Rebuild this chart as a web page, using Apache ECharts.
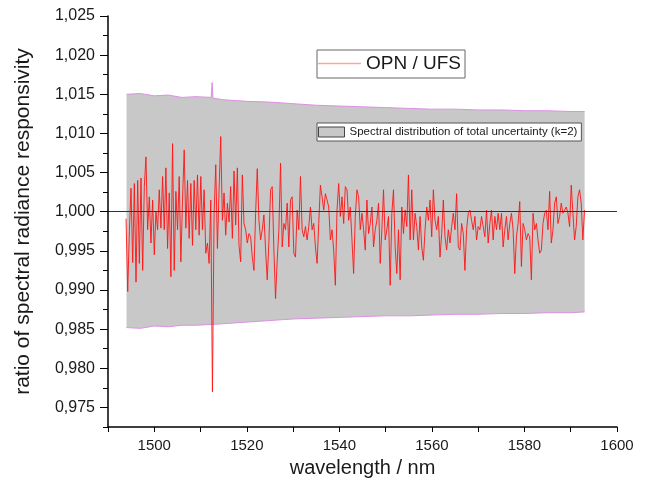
<!DOCTYPE html>
<html>
<head>
<meta charset="utf-8">
<title>OPN / UFS</title>
<script src="https://cdn.jsdelivr.net/npm/echarts@6.0.0/dist/echarts.min.js"></script>
<style>
  html, body { margin: 0; padding: 0; background: #fff; }
  #chart { width: 649px; height: 491px; }
</style>
</head>
<body>
<div id="chart"></div>
<script>
// tick positions
var xTicks = [1490, 1500, 1510, 1520, 1530, 1540, 1550, 1560, 1570, 1580, 1590, 1600];
var xLabels = [1500, 1520, 1540, 1560, 1580, 1600];
var yTicks = [0.975, 0.980, 0.985, 0.990, 0.995, 1.000, 1.005, 1.010, 1.015, 1.020, 1.025];
var yMinorTicks = [0.9725, 0.9775, 0.9825, 0.9875, 0.9925, 0.9975, 1.0025, 1.0075, 1.0125, 1.0175, 1.0225];

// uncertainty band (k=2), upper and lower edge
var bandNm = [1494, 1497, 1500, 1503, 1506, 1509, 1512.3, 1512.5, 1512.7, 1515, 1520, 1525, 1530,
  1535, 1540, 1545, 1550, 1555, 1560, 1565, 1570, 1575, 1580, 1585, 1590, 1593];
var bandUpper = [1.0150, 1.0151, 1.0148, 1.0149, 1.0146, 1.0147, 1.0146, 1.0165, 1.0145, 1.0143, 1.0141, 1.0140, 1.0138,
  1.0136, 1.0135, 1.0134, 1.0133, 1.0132, 1.0131, 1.0131, 1.0130, 1.0130, 1.0129, 1.0129, 1.0128, 1.0128];
var bandLower = [0.9852, 0.9851, 0.9854, 0.9853, 0.9855, 0.9855, 0.9856, 0.9856, 0.9856, 0.9857, 0.9859, 0.9861, 0.9863,
  0.9864, 0.9865, 0.9866, 0.9867, 0.9867, 0.9868, 0.9869, 0.9869, 0.9870, 0.9870, 0.9871, 0.9871, 0.9872];

// OPN / UFS ratio, read every ~0.36 nm from 1493.9 nm
var ratioStart = 1493.9;
var ratioStep = 0.359;
var ratio = [
  // 1494 - 1520
  0.9991, 0.9898, 0.9975, 1.0030, 0.9935, 1.0036, 0.9910, 1.0040, 0.9934, 1.0043,
  0.9925, 1.0032, 1.0070, 0.9977, 1.0019, 0.9960, 1.0015, 0.9945, 1.0000, 0.9977,
  1.0028, 0.9979, 1.0045, 0.9977, 1.0056, 0.9953, 1.0024, 0.9917, 1.0087, 0.9925,
  1.0026, 0.9977, 1.0045, 0.9936, 1.0015, 1.0079, 0.9979, 1.0040, 0.9966, 1.0036,
  0.9957, 1.0040, 0.9977, 1.0047, 0.9970, 1.0045, 0.9977, 1.0028, 0.9947, 0.9960,
  0.9934, 1.0015, 0.9770, 0.9996, 1.0060, 0.9953, 1.0028, 1.0096, 0.9989, 1.0024,
  0.9970, 1.0011, 0.9987, 1.0032, 0.9966, 1.0052, 0.9983, 1.0056, 0.9957, 0.9936,
  1.0047, 0.9985,
  // 1520 - 1546
  0.9977, 0.9960, 0.9972, 0.9968, 0.9942, 0.9925, 0.9998, 1.0055, 0.9989, 0.9964,
  0.9977, 0.9996, 0.9951, 0.9913, 0.9962, 1.0028, 1.0032, 0.9951, 0.9889, 0.9938,
  0.9977, 1.0062, 0.9955, 0.9985, 0.9977, 1.0011, 0.9955, 1.0015, 1.0019, 0.9947,
  0.9942, 1.0002, 0.9977, 1.0045, 0.9977, 0.9968, 0.9981, 0.9964, 0.9981, 1.0006,
  0.9977, 0.9985, 0.9955, 0.9934, 0.9985, 1.0034, 1.0019, 1.0002, 1.0023, 1.0015,
  1.0006, 0.9964, 0.9977, 0.9951, 0.9906, 1.0002, 1.0036, 0.9994, 1.0019, 0.9985,
  1.0032, 1.0028, 0.9989, 1.0006, 0.9964, 0.9921, 0.9994, 1.0028, 1.0019, 0.9977,
  0.9998, 0.9977,
  // 1546 - 1572
  0.9951, 1.0015, 0.9972, 0.9985, 1.0006, 0.9955, 0.9977, 0.9989, 1.0011, 0.9934,
  0.9977, 1.0028, 0.9964, 0.9977, 0.9994, 0.9906, 0.9998, 1.0028, 0.9955, 0.9921,
  0.9977, 0.9913, 1.0006, 0.9972, 1.0002, 0.9981, 1.0047, 0.9964, 1.0028, 0.9964,
  0.9998, 0.9981, 0.9951, 0.9994, 0.9955, 0.9938, 0.9977, 1.0006, 0.9989, 1.0015,
  0.9968, 1.0028, 0.9989, 0.9977, 0.9994, 0.9942, 0.9972, 1.0015, 0.9968, 0.9951,
  0.9977, 0.9960, 0.9981, 0.9998, 0.9977, 1.0023, 0.9955, 0.9951, 0.9985, 0.9972,
  0.9925, 0.9977, 0.9998, 1.0002, 0.9989, 0.9977, 0.9994, 0.9964, 0.9981, 0.9977,
  0.9994, 0.9981,
  // 1572 - 1593
  0.9968, 1.0002, 0.9960, 0.9985, 1.0002, 0.9964, 0.9994, 0.9977, 0.9998, 0.9977,
  0.9998, 0.9955, 0.9977, 0.9994, 0.9964, 0.9985, 0.9998, 0.9977, 0.9921, 0.9968,
  0.9985, 1.0013, 0.9930, 0.9985, 0.9977, 0.9964, 0.9972, 0.9968, 0.9913, 0.9998,
  0.9977, 0.9985, 0.9964, 0.9947, 0.9951, 0.9985, 0.9998, 1.0002, 0.9977, 1.0026,
  0.9960, 0.9977, 1.0011, 1.0019, 0.9985, 0.9994, 1.0011, 0.9998, 1.0002, 1.0006,
  0.9998, 0.9981, 1.0034, 0.9998, 0.9964, 0.9981, 1.0019, 1.0028, 1.0011, 0.9964,
  1.0002
];

var FONT = 'Liberation Sans, Arial, sans-serif';
var INK = '#1a1a1a';
var BAND_NAME = 'Spectral distribution of total uncertainty (k=2)';

var ratioData = ratio.map(function (v, i) { return [ratioStart + i * ratioStep, v]; });
var upperData = bandNm.map(function (x, i) { return [x, bandUpper[i]]; });
var lowerData = bandNm.map(function (x, i) { return [x, bandLower[i]]; });
var bandData = bandNm.map(function (x, i) { return [x, bandUpper[i], bandLower[i]]; });

// one polygon for the whole band: upper edge forward, lower edge back
function renderBand(params, api) {
  if (params.dataIndex !== 0) return;
  var pts = [];
  for (var i = 0; i < bandNm.length; i++) pts.push(api.coord([bandNm[i], bandUpper[i]]));
  for (var j = bandNm.length - 1; j >= 0; j--) pts.push(api.coord([bandNm[j], bandLower[j]]));
  return {
    type: 'polygon',
    shape: { points: pts },
    style: { fill: '#c8c8c8', stroke: null }
  };
}

var chart = echarts.init(document.getElementById('chart'), null, { renderer: 'canvas' });
chart.setOption({
  animation: false,
  backgroundColor: '#fff',
  textStyle: { fontFamily: FONT, color: INK },
  grid: { left: 108, right: 32, top: 16, bottom: 64, outerBoundsMode: 'none' },
  legend: [{
    left: 317, top: 50,
    orient: 'horizontal',
    backgroundColor: '#fff',
    borderColor: '#666', borderWidth: 1,
    padding: [4, 4, 5, 1],
    itemWidth: 43, itemHeight: 1.5,
    selectedMode: false,
    textStyle: { fontFamily: FONT, fontSize: 19, lineHeight: 19, color: INK },
    data: [{ name: 'OPN / UFS', icon: 'rect', itemStyle: { color: '#ffa4a4', borderWidth: 0 } }]
  }, {
    left: 317, top: 123,
    backgroundColor: '#fff',
    borderColor: '#555', borderWidth: 1,
    padding: [3, 4, 3, 1],
    itemWidth: 26, itemHeight: 10,
    selectedMode: false,
    textStyle: { fontFamily: FONT, fontSize: 11.5, lineHeight: 11, color: INK },
    data: [{
      name: BAND_NAME, icon: 'rect',
      itemStyle: { color: '#c8c8c8', borderColor: '#444', borderWidth: 1 }
    }]
  }],
  xAxis: {
    type: 'value',
    min: 1490, max: 1600,
    z: 10,
    name: 'wavelength / nm',
    nameLocation: 'middle',
    nameGap: 31,
    nameTextStyle: { fontFamily: FONT, fontSize: 20, color: INK },
    axisLine: { onZero: false, lineStyle: { color: '#000', width: 1.5 } },
    axisTick: { customValues: xTicks, length: 5, lineStyle: { color: '#000', width: 1 } },
    axisLabel: {
      customValues: xLabels, margin: 11, fontFamily: FONT, fontSize: 15, color: INK,
      formatter: function (v) { return String(v); }
    },
    splitLine: { show: false }
  },
  yAxis: [{
    type: 'value',
    min: 0.9725, max: 1.025,
    z: 10,
    name: 'ratio of spectral radiance responsivity',
    nameLocation: 'middle',
    nameGap: 74,
    nameTextStyle: { fontFamily: FONT, fontSize: 21, color: INK },
    axisLine: { onZero: false, lineStyle: { color: '#000', width: 1.5 } },
    axisTick: { customValues: yTicks, length: 8, lineStyle: { color: '#000', width: 1 } },
    axisLabel: {
      customValues: yTicks, margin: 13, fontFamily: FONT, fontSize: 16, color: INK,
      formatter: function (v) { return v.toFixed(3).replace('.', ','); }
    },
    splitLine: { show: false }
  }, {
    // minor ticks only
    type: 'value',
    position: 'left',
    min: 0.9725, max: 1.025,
    z: 10,
    axisLine: { show: false },
    axisTick: { customValues: yMinorTicks, length: 5, lineStyle: { color: '#000', width: 1 } },
    axisLabel: { show: false },
    splitLine: { show: false }
  }],
  series: [{
    name: BAND_NAME,
    type: 'custom',
    data: bandData,
    encode: { x: 0, y: [1, 2] },
    renderItem: renderBand,
    itemStyle: { color: '#c8c8c8' },
    silent: true,
    z: 1
  }, {
    name: 'band upper',
    type: 'line',
    data: upperData,
    showSymbol: false,
    lineStyle: { color: '#dc90e4', width: 1 },
    silent: true,
    z: 2
  }, {
    name: 'band lower',
    type: 'line',
    data: lowerData,
    showSymbol: false,
    lineStyle: { color: '#dc90e4', width: 1 },
    silent: true,
    z: 2
  }, {
    name: 'OPN / UFS',
    type: 'line',
    data: ratioData,
    showSymbol: false,
    lineStyle: { color: '#ff1414', width: 0.9 },
    itemStyle: { color: '#ff1414' },
    z: 3,
    markLine: {
      silent: true,
      symbol: 'none',
      label: { show: false },
      lineStyle: { color: '#333', width: 1.2, type: 'solid' },
      data: [{ yAxis: 1 }]
    }
  }]
});
</script>
</body>
</html>
